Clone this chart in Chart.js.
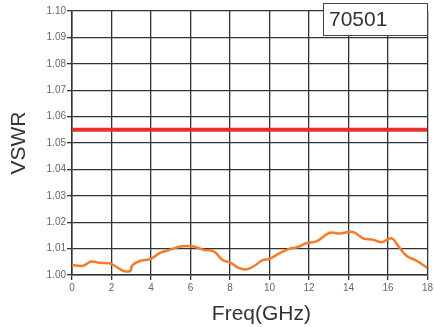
<!DOCTYPE html>
<html>
<head>
<meta charset="utf-8">
<script src="https://cdn.jsdelivr.net/npm/chart.js@4"></script>
<style>
  html, body { margin: 0; padding: 0; background: #fff; }
  #wrap { width: 435px; height: 327px; position: relative; }
</style>
</head>
<body>
<div id="wrap"><canvas id="vswrChart"></canvas></div>
<script>
const freqGHz = [0, 0.55, 0.97, 1.4, 1.9, 2.16, 2.59, 2.85, 2.96, 3.07, 3.44, 3.99, 4.46, 4.97, 5.49, 6.03, 6.34, 6.68, 7.19, 7.62, 8.04, 8.38, 8.82, 9.24, 9.66, 10.0, 10.5, 11.0, 11.4, 11.86, 12.37, 13.05, 13.55, 14.23, 14.74, 15.24, 15.67, 16.18, 16.51, 16.94, 17.45, 18.0];
const vswrValues = [1.0038, 1.0035, 1.0051, 1.0046, 1.0044, 1.0035, 1.0016, 1.0013, 1.0016, 1.0038, 1.0053, 1.0061, 1.0084, 1.0096, 1.0108, 1.0109, 1.0104, 1.0095, 1.0089, 1.0057, 1.0046, 1.0029, 1.0021, 1.0035, 1.0056, 1.0061, 1.0082, 1.0099, 1.0105, 1.0120, 1.0127, 1.0160, 1.0157, 1.0163, 1.0139, 1.0134, 1.0124, 1.0139, 1.0111, 1.0073, 1.0054, 1.0027];

// spec limit line
const limitFreq = [0, 18];
const limitLevel = [1.055, 1.055];

const partLabel = '70501';

// draws the part number box in the top right corner
const partLabelPlugin = {
    id: 'partLabel',
    afterDraw(chart) {
        const ctx = chart.ctx;
        ctx.save();
        ctx.fillStyle = '#fff';
        ctx.fillRect(323.5, 3.5, 104, 32);
        ctx.strokeStyle = '#444';
        ctx.lineWidth = 1;
        ctx.strokeRect(323.5, 3.5, 104, 32);
        ctx.fillStyle = '#333';
        ctx.font = '21px "Liberation Sans", Arial, sans-serif';
        ctx.textBaseline = 'middle';
        ctx.fillText(partLabel, 329, 20);
        ctx.restore();
    }
};

const toPoints = (xs, ys) => xs.map((x, i) => ({ x: x, y: ys[i] }));

new Chart(document.getElementById('vswrChart'), {
    type: 'scatter',
    data: {
        datasets: [
            {
                label: 'VSWR',
                data: toPoints(freqGHz, vswrValues),
                showLine: true,
                borderColor: '#f47b28',
                borderWidth: 2.5,
                pointRadius: 0,
                tension: 0.4
            },
            {
                label: 'Limit',
                data: toPoints(limitFreq, limitLevel),
                showLine: true,
                borderColor: '#e8302a',
                borderWidth: 4,
                pointRadius: 0
            }
        ]
    },
    options: {
        responsive: true,
        maintainAspectRatio: false,
        animation: false,
        layout: { padding: { top: 11, right: 7, left: 0, bottom: 0 } },
        plugins: {
            legend: { display: false },
            tooltip: { enabled: false }
        },
        scales: {
            x: {
                type: 'linear',
                min: 0,
                max: 18,
                afterFit: (scale) => { scale.height = 52; },
                ticks: {
                    stepSize: 2,
                    padding: 2,
                    color: '#666',
                    font: { family: '"Liberation Sans", Arial, sans-serif', size: 10 }
                },
                grid: { color: '#333', lineWidth: 1.3, tickLength: 5 },
                border: { color: '#333', width: 1.5 },
                title: {
                    display: true,
                    text: '    Freq(GHz)',
                    color: '#333',
                    font: { family: '"Liberation Sans", Arial, sans-serif', size: 21 },
                    padding: { top: 9, bottom: 0 }
                }
            },
            y: {
                min: 1.0,
                max: 1.1,
                afterFit: (scale) => { scale.width = 72; },
                ticks: {
                    stepSize: 0.01,
                    padding: 1,
                    color: '#666',
                    font: { family: '"Liberation Sans", Arial, sans-serif', size: 10 },
                    callback: (v) => v.toFixed(2)
                },
                grid: { color: '#333', lineWidth: 1.3, tickLength: 5 },
                border: { color: '#333', width: 1.5 },
                title: {
                    display: true,
                    text: 'VSWR',
                    color: '#333',
                    font: { family: '"Liberation Sans", Arial, sans-serif', size: 21 },
                    padding: { top: 7, bottom: 0 }
                }
            }
        }
    },
    plugins: [partLabelPlugin]
});
</script>
</body>
</html>
